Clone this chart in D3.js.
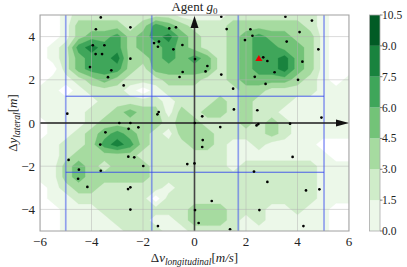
<!DOCTYPE html>
<html><head><meta charset="utf-8">
<script src="https://cdn.jsdelivr.net/npm/d3@7"></script>
<style>body{margin:0;background:#fff}text{font-family:"Liberation Serif","DejaVu Serif",serif;fill:#222}</style>
</head><body><svg id="c" width="407" height="267"></svg>
<script>
const xTicks = [-6,-4,-2,0,2,4,6];
const yTicks = [-4,-2,0,2,4];
const levels = [0,1.5,3,4.5,6,7.5,9,10.5];
const levelLabels = ["0.0","1.5","3.0","4.5","6.0","7.5","9.0","10.5"];
const gridX = [-6,-5.5,-5,-4.5,-4,-3.5,-3,-2.5,-2,-1.5,-1,-0.5,0,0.5,1,1.5,2,2.5,3,3.5,4,4.5,5,5.5,6];
const gridY = [5,4.5,4,3.5,3,2.5,2,1.5,1,0.5,0,-0.5,-1,-1.5,-2,-2.5,-3,-3.5,-4,-4.5,-5];
// density band per grid node (0 = empty, 1..7 = level band)
const densityRows = [
"0012222222211112222222100",
"0013333235432223333332100",
"0013445345643223454433100",
"0125655344543223455443100",
"0124556334545423455643100",
"0024555324444423455643100",
"0112343222333223444432101",
"1101222101222222332222111",
"1111122222122232322211111",
"1111223433132332322111111",
"0111233333233222323211111",
"0112345432133322223211111",
"1122356532223321121111000",
"1123333322222221111111100",
"1134323332222221222222111",
"1134333332222222222222111",
"0123322222122222222222111",
"0112222220222222222222111",
"0011122222223332221121100",
"0011112221123332121111100",
"0011111222112222111111100"
];
const ptX = [-3.64,-3.83,-2.49,-3.95,-3.50,-3.84,-3.59,-2.49,-4.06,-3.23,-3.36,-2.75,-4.94,-0.98,-0.72,-1.57,-1.38,-1.42,-0.47,-0.82,0.02,-0.46,-0.58,-1.44,-1.39,-2.92,-2.49,-2.56,-2.18,1.04,3.53,4.56,1.25,2.17,2.25,4.08,1.96,3.58,4.81,2.67,2.83,4.19,0.50,0.43,1.04,2.34,3.11,4.02,2.76,1.50,1.53,2.44,0.30,4.93,0.01,2.48,2.41,3.71,1.00,-3.46,-3.66,-4.89,-2.57,-2.34,-1.99,-4.49,-3.64,-4.52,-4.16,-2.49,-2.58,-2.49,-1.42,-0.28,0.00,0.02,0.16,0.32,0.30,3.81,2.31,2.83,4.33,4.85,0.67,2.52,1.38,4.23];
const ptY = [4.89,4.34,4.43,3.60,3.60,3.19,3.19,2.98,2.59,2.44,2.12,1.74,0.43,4.38,4.43,3.70,3.77,3.53,3.61,3.41,2.96,2.36,2.13,0.40,0.51,0.0,0.0,-0.27,-0.20,4.92,4.92,4.74,4.35,4.34,4.04,4.21,3.84,3.77,3.41,3.04,2.87,2.84,2.64,2.39,2.24,2.14,2.35,2.00,1.81,1.59,0.63,0.59,0.31,0.25,0.0,-0.05,-0.11,-0.03,-0.19,-0.43,-1.00,-1.71,-1.56,-1.59,-1.99,-2.16,-2.21,-2.58,-2.96,-2.98,-3.06,-4.01,-4.77,-1.90,-1.87,-4.03,-4.63,-0.79,-1.11,-1.57,-2.25,-2.73,-3.12,-3.07,-3.61,-4.03,-4.92,-4.77];
const agentX = [2.5], agentY = [2.96];
const vLines = [-5.0,-1.66,1.70,5.03];
const hLines = [1.24,-2.28];
const hLineExtent = [-5.0,5.03];

const svg = d3.select("#c");
const L=40,R=349,T=15,B=231;
const x = d3.scaleLinear().domain([-6,6]).range([L,R]);
const y = d3.scaleLinear().domain([-5,5]).range([B,T]);
const color = k => d3.interpolateGreens((k+0.5)/7);

svg.append("defs").append("clipPath").attr("id","clip").append("rect").attr("x",L).attr("y",T).attr("width",R-L).attr("height",B-T);
const plot = svg.append("g").attr("clip-path","url(#clip)");

const n = gridX.length, m = gridY.length;
const values = [];
densityRows.forEach(r => { for (const ch of r) { const b=+ch; values.push(b===0?-1:(b-1)*1.5+0.75); } });
const cont = d3.contours().size([n,m]).thresholds(levels.slice(0,-1))(values);
const gx = d3.scaleLinear().domain([0.5,n-0.5]).range([x(gridX[0]),x(gridX[n-1])]);
const gy = d3.scaleLinear().domain([0.5,m-0.5]).range([y(gridY[0]),y(gridY[m-1])]);
const path = d3.geoPath(d3.geoTransform({point(px,py){ this.stream.point(gx(px),gy(py)); }}));
plot.selectAll("path.c").data(cont).join("path").attr("class","c")
  .attr("d",path).attr("fill",(d,i)=>color(i)).attr("stroke",(d,i)=>color(i)).attr("stroke-width",0.3);

// grid
plot.selectAll("line.gx").data(xTicks).join("line").attr("x1",d=>x(d)).attr("x2",d=>x(d)).attr("y1",T).attr("y2",B).attr("stroke","#b0b0b0").attr("stroke-opacity",0.6).attr("stroke-width",0.8);
plot.selectAll("line.gy").data(yTicks).join("line").attr("y1",d=>y(d)).attr("y2",d=>y(d)).attr("x1",L).attr("x2",R).attr("stroke","#b0b0b0").attr("stroke-opacity",0.6).attr("stroke-width",0.8);

// blue lines
plot.selectAll("line.v").data(vLines).join("line").attr("x1",d=>x(d)).attr("x2",d=>x(d)).attr("y1",T).attr("y2",B).attr("stroke","#4455ee").attr("stroke-opacity",0.55).attr("stroke-width",1.7);
plot.selectAll("line.h").data(hLines).join("line").attr("y1",d=>y(d)).attr("y2",d=>y(d)).attr("x1",x(hLineExtent[0])).attr("x2",x(hLineExtent[1])).attr("stroke","#3344ee").attr("stroke-opacity",0.85).attr("stroke-width",1);

// axis arrows
svg.append("line").attr("x1",x(-6)).attr("x2",x(5.5)).attr("y1",y(0)).attr("y2",y(0)).attr("stroke","#222").attr("stroke-width",1.3);
svg.append("path").attr("d",`M${x(6)},${y(0)}L${x(6)-13},${y(0)-3.6}L${x(6)-13},${y(0)+3.6}Z`).attr("fill","#111");
svg.append("line").attr("x1",x(0)).attr("x2",x(0)).attr("y1",y(-5)).attr("y2",y(4.6)).attr("stroke","#444").attr("stroke-width",1.6);
svg.append("path").attr("d",`M${x(0)},${y(5)+1}L${x(0)-4},${y(5)+13}L${x(0)+4},${y(5)+13}Z`).attr("fill","#111");

// points
svg.selectAll("circle.p").data(ptX.map((v,i)=>[v,ptY[i]])).join("circle").attr("class","p")
  .attr("cx",d=>x(d[0])).attr("cy",d=>y(d[1])).attr("r",1.35).attr("fill","#000");
svg.selectAll("path.a").data(agentX.map((v,i)=>[v,agentY[i]])).join("path").attr("class","a")
  .attr("d",d3.symbol(d3.symbolTriangle,22)).attr("transform",d=>`translate(${x(d[0])},${y(d[1])})`).attr("fill","#ee0000");

// frame
svg.append("rect").attr("x",L).attr("y",T).attr("width",R-L).attr("height",B-T).attr("fill","none").attr("stroke","#a0a0a0").attr("stroke-width",1);

// tick labels
const fmt = v => v<0 ? "\u2212"+(-v) : ""+v;
svg.selectAll("text.xt").data(xTicks).join("text").attr("x",d=>x(d)).attr("y",B+15).attr("text-anchor","middle").attr("font-size",13).text(fmt);
svg.selectAll("text.yt").data(yTicks).join("text").attr("x",L-5).attr("y",d=>y(d)+4.5).attr("text-anchor","end").attr("font-size",13).text(fmt);

// title
const t = svg.append("text").attr("x",(L+R)/2).attr("y",11).attr("text-anchor","middle").attr("font-size",13);
t.append("tspan").text("Agent ");
t.append("tspan").attr("font-style","italic").text("g");
t.append("tspan").attr("font-size",9).attr("dy",3).text("0");

// x label
const xl = svg.append("text").attr("x",(L+R)/2).attr("y",262).attr("text-anchor","middle").attr("font-size",13);
xl.append("tspan").text("\u0394");
xl.append("tspan").attr("font-style","italic").text("v");
xl.append("tspan").attr("font-style","italic").attr("font-size",9.5).attr("dy",3).text("longitudinal");
xl.append("tspan").attr("dy",-3).text("[");
xl.append("tspan").attr("font-style","italic").text("m/s");
xl.append("tspan").text("]");

// y label
const yl = svg.append("text").attr("transform",`translate(17,${(T+B)/2}) rotate(-90)`).attr("text-anchor","middle").attr("font-size",13);
yl.append("tspan").text("\u0394");
yl.append("tspan").attr("font-style","italic").text("y");
yl.append("tspan").attr("font-style","italic").attr("font-size",9.5).attr("dy",3).text("lateral");
yl.append("tspan").attr("dy",-3).text("[");
yl.append("tspan").attr("font-style","italic").text("m");
yl.append("tspan").text("]");

// colorbar
const CX=369.5, CW=10.5;
const cy = d3.scaleLinear().domain([0,10.5]).range([B,T]);
svg.selectAll("rect.cb").data(d3.range(levels.length-1)).join("rect").attr("class","cb")
  .attr("x",CX).attr("width",CW).attr("y",k=>cy(levels[k+1])).attr("height",k=>cy(levels[k])-cy(levels[k+1])).attr("fill",k=>color(k));
svg.append("rect").attr("x",CX).attr("y",T).attr("width",CW).attr("height",B-T).attr("fill","none").attr("stroke","#aaa").attr("stroke-width",0.8);
svg.selectAll("line.ct").data(levels).join("line").attr("x1",CX+CW).attr("x2",CX+CW+2.5).attr("y1",d=>cy(d)).attr("y2",d=>cy(d)).attr("stroke","#333").attr("stroke-width",0.6);
svg.selectAll("text.cl").data(levels).join("text").attr("x",CX+CW+2).attr("y",(d)=>cy(d)+4).attr("font-size",11.5).text((d,i)=>levelLabels[i]);
</script></body></html>
